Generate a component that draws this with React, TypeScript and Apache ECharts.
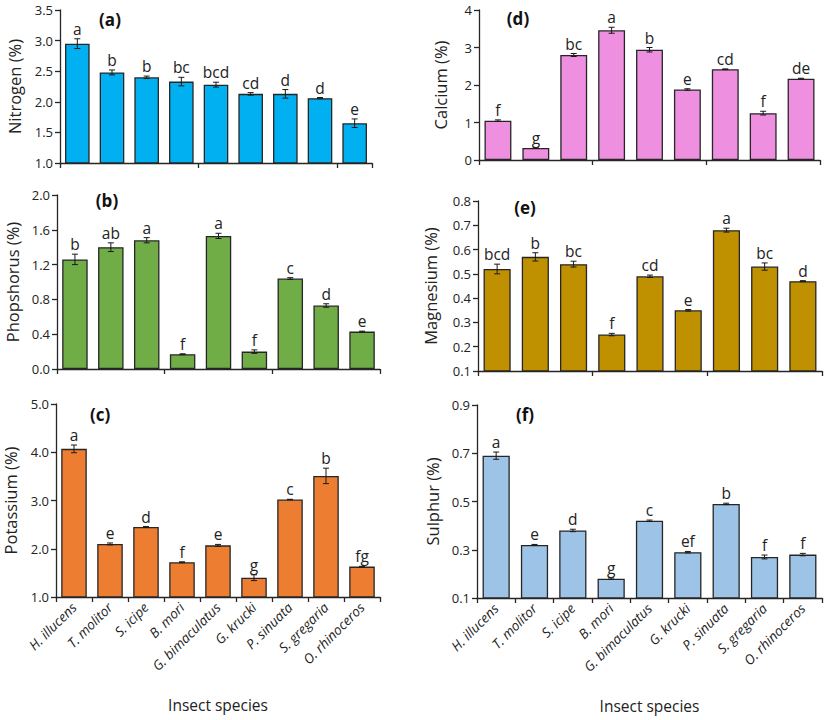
import React, { useEffect, useRef } from "react";
import * as echarts from "echarts";

const species = ["H. illucens", "T. molitor", "S. icipe", "B. mori", "G. bimaculatus", "G. krucki", "P. sinuata", "S. gregaria", "O. rhinoceros"];

const nitrogen = [2.95, 2.48, 2.40, 2.33, 2.28, 2.13, 2.13, 2.06, 1.65];
const nitrogenErr = [0.08, 0.04, 0.02, 0.07, 0.04, 0.02, 0.07, 0.01, 0.07];
const nitrogenLetters = ["a", "b", "b", "bc", "bcd", "cd", "d", "d", "e"];

const calcium = [1.05, 0.32, 2.80, 3.46, 2.94, 1.88, 2.42, 1.25, 2.17];
const calciumErr = [0.02, 0.0, 0.04, 0.08, 0.06, 0.02, 0.01, 0.05, 0.01];
const calciumLetters = ["f", "g", "bc", "a", "b", "e", "cd", "f", "de"];

const phosphorus = [1.26, 1.40, 1.48, 0.17, 1.53, 0.20, 1.04, 0.73, 0.43];
const phosphorusErr = [0.06, 0.05, 0.03, 0.005, 0.03, 0.02, 0.01, 0.02, 0.005];
const phosphorusLetters = ["b", "ab", "a", "f", "a", "f", "c", "d", "e"];

const magnesium = [0.52, 0.57, 0.54, 0.25, 0.49, 0.35, 0.68, 0.53, 0.47];
const magnesiumErr = [0.02, 0.017, 0.012, 0.005, 0.005, 0.003, 0.008, 0.015, 0.002];
const magnesiumLetters = ["bcd", "b", "bc", "f", "cd", "e", "a", "bc", "d"];

const potassium = [4.07, 2.10, 2.45, 1.72, 2.07, 1.40, 3.02, 3.51, 1.63];
const potassiumErr = [0.08, 0.02, 0.01, 0.01, 0.02, 0.06, 0.005, 0.16, 0.005];
const potassiumLetters = ["a", "e", "d", "f", "e", "g", "c", "b", "fg"];

const sulphur = [0.69, 0.32, 0.38, 0.18, 0.42, 0.29, 0.49, 0.27, 0.28];
const sulphurErr = [0.015, 0.002, 0.005, 0.003, 0.003, 0.003, 0.003, 0.008, 0.005];
const sulphurLetters = ["a", "e", "d", "g", "c", "ef", "b", "f", "f"];

const nitrogenTicks = { min: 1.0, max: 3.5, interval: 0.5, decimals: 1 };
const calciumTicks = { min: 0, max: 4, interval: 1, decimals: 0 };
const phosphorusTicks = { min: 0, max: 2.0, interval: 0.4, decimals: 1 };
const magnesiumTicks = { min: 0.1, max: 0.8, interval: 0.1, decimals: 1 };
const potassiumTicks = { min: 1.0, max: 5.0, interval: 1.0, decimals: 1 };
const sulphurTicks = { min: 0.1, max: 0.9, interval: 0.2, decimals: 1 };

const FONT = "'Open Sans', 'Noto Sans', sans-serif";
const DARK = "#262626";

const panels = [
  { tag: "(a)", name: "Nitrogen (%)", values: nitrogen, errs: nitrogenErr, letters: nitrogenLetters, ticks: nitrogenTicks, color: "#00B0F0",
    grid: { left: 60, top: 10, width: 312, height: 153 }, nameGap: 37, tagPos: [110, 19], bottom: false },
  { tag: "(d)", name: "Calcium (%)", values: calcium, errs: calciumErr, letters: calciumLetters, ticks: calciumTicks, color: "#EF8FE0",
    grid: { left: 479, top: 10, width: 341, height: 150 }, nameGap: 30, tagPos: [518, 18], bottom: false },
  { tag: "(b)", name: "Phopshorus (%)", values: phosphorus, errs: phosphorusErr, letters: phosphorusLetters, ticks: phosphorusTicks, color: "#70AD47",
    grid: { left: 57, top: 195, width: 323, height: 174 }, nameGap: 36, tagPos: [107, 200], bottom: false },
  { tag: "(e)", name: "Magnesium (%)", values: magnesium, errs: magnesiumErr, letters: magnesiumLetters, ticks: magnesiumTicks, color: "#BF9000",
    grid: { left: 478, top: 201, width: 344, height: 170 }, nameGap: 39, tagPos: [525, 207], bottom: false },
  { tag: "(c)", name: "Potassium (%)", values: potassium, errs: potassiumErr, letters: potassiumLetters, ticks: potassiumTicks, color: "#ED7D31",
    grid: { left: 56, top: 404, width: 324, height: 193 }, nameGap: 37, tagPos: [100, 414], bottom: true },
  { tag: "(f)", name: "Sulphur (%)", values: sulphur, errs: sulphurErr, letters: sulphurLetters, ticks: sulphurTicks, color: "#9DC3E6",
    grid: { left: 477, top: 405, width: 345, height: 193 }, nameGap: 36, tagPos: [525, 414], bottom: true },
];

export default function App() {
  const ref = useRef<HTMLDivElement>(null);
  useEffect(() => {
    document.body.style.margin = "0";
    const chart = echarts.init(ref.current!, null, { renderer: "svg" });
    const grids: any[] = [];
    const xAxes: any[] = [];
    const yAxes: any[] = [];
    const series: any[] = [];
    const graphic: any[] = [];
    panels.forEach((p, i) => {
      grids.push({ ...p.grid, containLabel: false });
      xAxes.push({
        type: "category",
        gridIndex: i,
        data: species,
        axisLine: { lineStyle: { color: DARK, width: 1.3 } },
        axisTick: { show: true, length: 5, lineStyle: { color: DARK, width: 1.3 } },
        axisLabel: p.bottom
          ? { show: true, rotate: 45, fontFamily: FONT, fontSize: 13.5, fontStyle: "italic", color: "#222", margin: 8 }
          : { show: false },
        name: p.bottom ? "Insect species" : "",
        nameLocation: "middle",
        nameGap: 100,
        nameTextStyle: { fontFamily: FONT, fontSize: 15.5, color: "#222" },
        splitLine: { show: false },
      });
      yAxes.push({
        type: "value",
        gridIndex: i,
        min: p.ticks.min,
        max: p.ticks.max,
        interval: p.ticks.interval,
        name: p.name,
        nameLocation: "middle",
        nameGap: p.nameGap,
        nameTextStyle: { fontFamily: FONT, fontSize: 16.5, color: "#222" },
        axisLine: { show: true, lineStyle: { color: DARK, width: 1.3 } },
        axisTick: { show: true, length: 5, lineStyle: { color: DARK, width: 1.3 } },
        axisLabel: {
          fontFamily: FONT, fontSize: 13, color: "#222", margin: 7,
          formatter: (v: number) => v.toFixed(p.ticks.decimals),
        },
        splitLine: { show: false },
      });
      series.push({
        type: "bar",
        xAxisIndex: i,
        yAxisIndex: i,
        data: p.values,
        barCategoryGap: "29%",
        itemStyle: { color: p.color, borderColor: DARK, borderWidth: 1.3 },
        z: 2,
      });
      series.push({
        type: "custom",
        xAxisIndex: i,
        yAxisIndex: i,
        z: 5,
        data: p.values.map((v, k) => [k, v, p.errs[k]]),
        renderItem: (params: any, api: any) => {
          const k = api.value(0);
          const v = api.value(1);
          const e = api.value(2);
          const hi = api.coord([k, v + e]);
          const lo = api.coord([k, v - e]);
          const cap = 3;
          const st = { stroke: "#1a1a1a", lineWidth: 1 };
          return {
            type: "group",
            children: [
              { type: "line", shape: { x1: hi[0], y1: hi[1], x2: lo[0], y2: lo[1] }, style: st },
              { type: "line", shape: { x1: hi[0] - cap, y1: hi[1], x2: hi[0] + cap, y2: hi[1] }, style: st },
              { type: "line", shape: { x1: lo[0] - cap, y1: lo[1], x2: lo[0] + cap, y2: lo[1] }, style: st },
              {
                type: "text",
                x: hi[0],
                y: hi[1] - 2,
                style: {
                  text: p.letters[k],
                  fontFamily: FONT,
                  fontSize: 15.5,
                  fill: "#222",
                  textAlign: "center",
                  textVerticalAlign: "bottom",
                },
              },
            ],
          };
        },
      });
      graphic.push({
        type: "text",
        x: p.tagPos[0],
        y: p.tagPos[1],
        style: {
          text: p.tag,
          fontFamily: FONT,
          fontSize: 17,
          fontWeight: "bold",
          fill: "#111",
          textAlign: "center",
          textVerticalAlign: "middle",
        },
      });
    });
    chart.setOption({
      animation: false,
      backgroundColor: "#ffffff",
      grid: grids,
      xAxis: xAxes,
      yAxis: yAxes,
      series,
      graphic,
    });
    return () => chart.dispose();
  }, []);
  return <div ref={ref} style={{ width: 830, height: 720 }} />;
}
